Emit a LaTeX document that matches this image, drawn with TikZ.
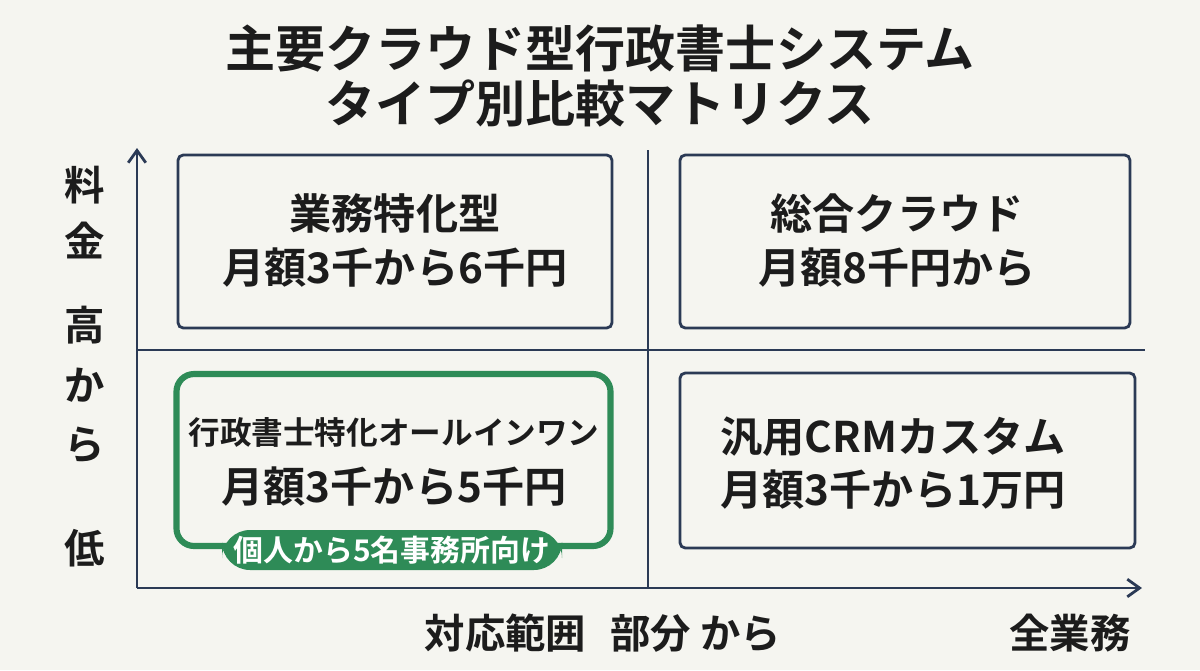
\documentclass[tikz,border=0pt]{standalone}
\usepackage{fontspec}
\setmainfont{Noto Sans CJK JP}[BoldFont={* Bold}]
\usetikzlibrary{arrows.meta}
\definecolor{bg}{HTML}{F5F5F0}
\definecolor{navy}{HTML}{2B3A55}
\definecolor{ink}{HTML}{1C1C1C}
\definecolor{grn}{HTML}{2E8B57}
\begin{document}
\begin{tikzpicture}[x=0.02cm,y=-0.02cm,
  ln/.style={navy,line width=1.6pt},
  box/.style={draw=navy,line width=1.6pt,rounded corners=3pt},
  t1/.style={ink,font=\fontsize{24}{28}\selectfont\bfseries},
  ttl/.style={ink,font=\fontsize{28.5}{32}\selectfont\bfseries},
  ax/.style={ink,font=\fontsize{23}{26}\selectfont\bfseries}]
\fill[bg] (0,0) rectangle (1200,670);
\useasboundingbox (0,0) rectangle (1200,670);
\node[ttl] (t1) at (600,48) {主要クラウド型行政書士システム};
\node[ttl] (t2) at (600,103) {タイプ別比較マトリクス};
\coordinate (o) at (137,588);
\coordinate (yt) at (137,148);
\coordinate (xt) at (1142,588);
\draw[ln,-{Straight Barb[length=7pt,width=10pt]}] (o) -- (yt);
\draw[ln,-{Straight Barb[length=7pt,width=10pt]}] (o) -- (xt);
\coordinate (v1) at (648,150); \coordinate (v2) at (648,588);
\coordinate (h1) at (137,350); \coordinate (h2) at (1145,350);
\draw[ln] (v1) -- (v2);
\draw[ln] (h1) -- (h2);
\node[box,minimum width=434*0.02cm,minimum height=173*0.02cm] (tl) at (395,241.5) {};
\node[box,minimum width=450*0.02cm,minimum height=173*0.02cm] (tr) at (905,241.5) {};
\node[box,minimum width=455*0.02cm,minimum height=175*0.02cm] (br) at (907.5,460.5) {};
\node[draw=grn,line width=3.5pt,rounded corners=10pt,minimum width=434*0.02cm,minimum height=172*0.02cm] (bl) at (393.5,460) {};
\node[t1] (a1) at (395,213) {業務特化型};
\node[t1] (a2) at (395,268) {月額3千から6千円};
\node[t1] (b1) at (897,213) {総合クラウド};
\node[t1] (b2) at (897,268) {月額8千円から};
\node[ink,font=\fontsize{18}{22}\selectfont\bfseries] (c1) at (394,432) {行政書士特化オールインワン};
\node[t1] (c2) at (394,487) {月額3千から5千円};
\node[fill=grn,text=white,rounded corners=16pt,minimum width=340*0.02cm,minimum height=40*0.02cm,font=\fontsize{17}{20}\selectfont\bfseries] (p) at (392,550) {個人から5名事務所向け};
\node[t1] (d1) at (893,437) {汎用CRMカスタム};
\node[t1] (d2) at (893,490) {月額3千から1万円};
\node[ax] (l1) at (85,185) {料};
\node[ax] (l2) at (85,240) {金};
\node[ax] (l3) at (85,325) {高};
\node[ax] (l4) at (85,385) {か};
\node[ax] (l5) at (85,445) {ら};
\node[ax] (l6) at (85,548) {低};
\node[ax] (x1) at (603,633) {対応範囲\hspace{0.6em}部分 から};
\node[ax] (x2) at (1070,633) {全業務};
\end{tikzpicture}
\end{document}
